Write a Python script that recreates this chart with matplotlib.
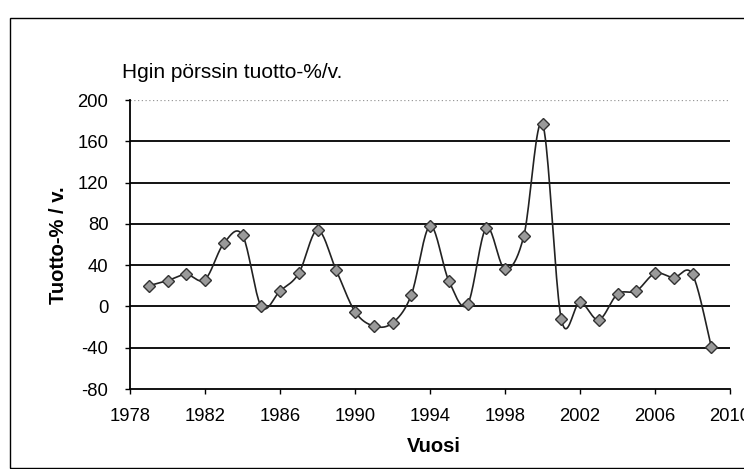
import numpy as np
import matplotlib
matplotlib.use("Agg")
import matplotlib.pyplot as plt
from matplotlib.patches import Rectangle

plt.rcParams['font.family'] = ['Liberation Sans', 'DejaVu Sans']
plt.rcParams['axes.unicode_minus'] = False

years = list(range(1979, 2010))
returns = [20, 25, 31, 26, 61, 69, 0, 15, 32, 74, 35, -5, -19, -16, 11, 78,
           25, 2, 76, 36, 68, 177, -12, 4, -13, 12, 15, 32, 28, 31, -39]
x_ticks = [1978, 1982, 1986, 1990, 1994, 1998, 2002, 2006, 2010]
y_ticks = [-80, -40, 0, 40, 80, 120, 160, 200]
title = "Hgin pörssin tuotto-%/v."
xlabel = "Vuosi"
ylabel = "Tuotto-% / v."


def catmull_rom(xs, ys, n=20):
    xs = np.asarray(xs, float)
    ys = np.asarray(ys, float)
    P = np.column_stack([xs, ys])
    P = np.vstack([P[0], P, P[-1]])
    out = []
    t = np.linspace(0, 1, n, endpoint=False)
    for i in range(1, len(P) - 2):
        p0, p1, p2, p3 = P[i - 1], P[i], P[i + 1], P[i + 2]
        t2, t3 = t * t, t * t * t
        pts = 0.5 * ((2 * p1)[None, :] + (-p0 + p2)[None, :] * t[:, None]
                     + (2 * p0 - 5 * p1 + 4 * p2 - p3)[None, :] * t2[:, None]
                     + (-p0 + 3 * p1 - 3 * p2 + p3)[None, :] * t3[:, None])
        out.append(pts)
    out.append(P[-2][None, :])
    out = np.vstack(out)
    return out[:, 0], out[:, 1]


fig = plt.figure(figsize=(7.44, 4.69), dpi=100)
fig.patch.set_facecolor('white')

# outer chart border
fig.add_artist(Rectangle((10 / 744, 1 - 468 / 469), 1.0, (468 - 18) / 469,
                         transform=fig.transFigure, fill=False,
                         edgecolor='black', linewidth=1.0))

L, R, T, B = 130, 730, 100, 389
ax = fig.add_axes([L / 744, 1 - B / 469, (R - L) / 744, (B - T) / 469])
ax.set_xlim(1978, 2010)
ax.set_ylim(-80, 200)

for v in y_ticks:
    if v == 200:
        ax.axhline(v, color='#999999', lw=0.9, ls=(0, (1, 2)), zorder=1)
    elif v != -80:
        ax.axhline(v, color='black', lw=1.3, zorder=1)

sx, sy = catmull_rom(years, returns)
ax.plot(sx, sy, color='#222222', lw=1.2, zorder=2)
ax.plot(years, returns, ls='none', marker='D', ms=6.5,
        markerfacecolor='#9a9a9a', markeredgecolor='#333333',
        markeredgewidth=1.0, zorder=3)

ax.set_xticks(x_ticks)
ax.set_yticks(y_ticks)
ax.tick_params(axis='both', labelsize=13.3, direction='out', length=3.5,
               width=1, colors='black')
ax.tick_params(axis='x', pad=10)
ax.tick_params(axis='y', pad=12)
for side in ['top', 'right']:
    ax.spines[side].set_visible(False)
for side in ['left', 'bottom']:
    ax.spines[side].set_linewidth(1.3)

ax.set_xlabel(xlabel, fontsize=14.5, fontweight='bold')
ax.set_ylabel(ylabel, fontsize=14.5, fontweight='bold')
ax.xaxis.set_label_coords((434 - L) / (R - L), (B - 446) / (B - T))
ax.yaxis.set_label_coords((58 - L) / (R - L), (B - 245) / (B - T))
ax.xaxis.label.set_va('center')
ax.yaxis.label.set_va('center')
fig.text(122 / 744, 1 - 72 / 469, title, fontsize=15, ha='left', va='center')

fig.savefig('out.png', dpi=100)
